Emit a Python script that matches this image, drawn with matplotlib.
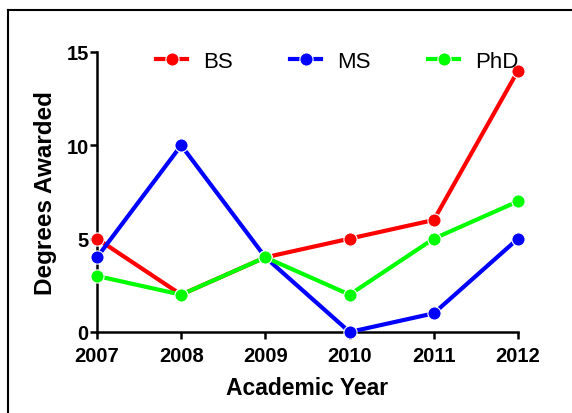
import matplotlib
matplotlib.use('Agg')
import matplotlib.pyplot as plt
from matplotlib.lines import Line2D

# Degrees awarded per academic year
years = [2007, 2008, 2009, 2010, 2011, 2012]
bs = [5, 2, 4, 5, 6, 14]
ms = [4, 10, 4, 0, 1, 5]
phd = [3, 2, 4, 2, 5, 7]
series_names = ['BS', 'MS', 'PhD']
series_colors = ['#FF0000', '#0000FF', '#00FF00']

plt.rcParams['font.family'] = ['Liberation Sans', 'DejaVu Sans']

W, H = 572, 414
fig = plt.figure(figsize=(W / 100, H / 100), dpi=100)
ax = fig.add_axes([97 / W, 1 - 333 / H, 421 / W, 280 / H])

for vals, name, color in zip([bs, ms, phd], series_names, series_colors):
    ax.plot(years, vals, color=color, lw=3, marker='o', ms=9.5,
            mec='white', mew=0.8, label=name, clip_on=False, zorder=3)

ax.set_xlim(2007, 2012)
ax.set_ylim(0, 15)
ax.set_xticks(years)
ax.set_yticks([0, 5, 10, 15])
for s in ['top', 'right']:
    ax.spines[s].set_visible(False)
for s in ['left', 'bottom']:
    ax.spines[s].set_linewidth(1.8)
ax.tick_params(width=1.8, length=5, labelsize=14.5)
ax.tick_params(axis='x', pad=5)
ax.tick_params(axis='y', pad=1)
for lbl in ax.get_xticklabels() + ax.get_yticklabels():
    lbl.set_fontweight('bold')

ax.set_xlabel('Academic Year', fontsize=16.5, fontweight='bold', labelpad=8)
ax.set_ylabel('Degrees Awarded', fontsize=17.5, fontweight='bold', labelpad=6.5)

ax.legend(loc='center left', bbox_to_anchor=(156 / W, 1 - 62 / H),
          bbox_transform=fig.transFigure, ncol=3, frameon=False,
          fontsize=16, handlelength=1.4, columnspacing=2.6, handletextpad=0.7,
          borderpad=0, borderaxespad=0)

# outer frame (top and left edges visible)
fig.add_artist(Line2D([8 / W, 1], [1 - 11 / H, 1 - 11 / H], color='black', lw=1.5,
                      transform=fig.transFigure))
fig.add_artist(Line2D([8 / W, 8 / W], [0, 1 - 11 / H], color='black', lw=1.5,
                      transform=fig.transFigure))

plt.savefig('out.png', dpi=100)
